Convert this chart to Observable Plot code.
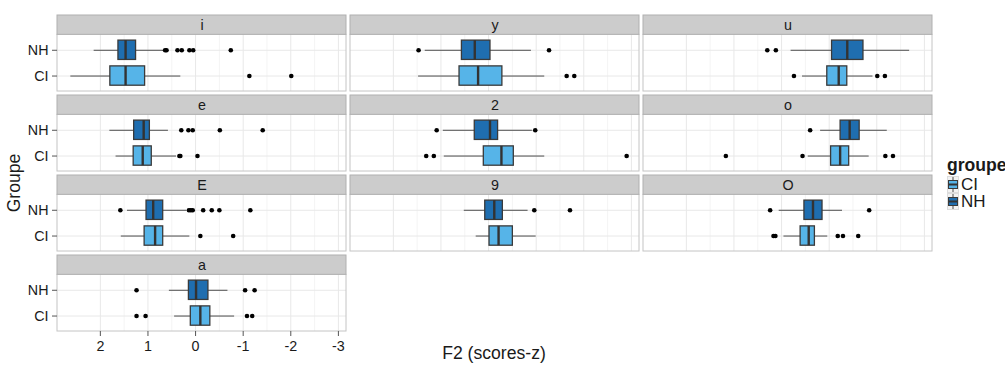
<!DOCTYPE html>
<html>
<head>
<meta charset="utf-8">
<script src="https://cdn.jsdelivr.net/npm/d3@7"></script>
<script src="https://cdn.jsdelivr.net/npm/@observablehq/plot@0.6"></script>
<style>
  html, body { margin: 0; padding: 0; background: #fff; overflow: hidden; }
  body { width: 1005px; height: 367px; position: relative; font-family: "Liberation Sans", Arial, Helvetica, sans-serif; color: #1a1a1a; }
  #chart { position: absolute; left: 0; top: 0; }
  .title { position: absolute; line-height: 1; white-space: nowrap; font-size: 17.6px; }
  #legend { position: absolute; left: 947px; top: 157px; }
  #legend .lt { font-weight: bold; font-size: 17.6px; line-height: 1; margin-bottom: 1px; }
  #legend .row { display: flex; align-items: center; height: 17px; }
  #legend .row span { font-size: 17px; margin-left: 2px; line-height: 1; }
</style>
</head>
<body>
<div id="chart"></div>
<div class="title" style="left:494px; top:354px; transform: translate(-50%,-50%);">F2 (scores-z)</div>
<div class="title" style="left:15px; top:183px; transform: translate(-50%,-50%) rotate(-90deg);">Groupe</div>
<div id="legend"></div>
<script>
// ---- data ----
const vowels = ["i", "y", "u", "e", "2", "o", "E", "9", "O", "a"];
const groups = ["CI", "NH"];
const groupColors = ["#56b4e8", "#1f6eb0"];
const xTicks = [2, 1, 0, -1, -2, -3];

// five-number summaries per vowel: [lower whisker, q1, median, q3, upper whisker]
const statsNH = [
  [0.66, 1.25, 1.47, 1.62, 2.13],   // i
  [-0.90, -0.04, 0.29, 0.56, 1.33], // y
  [-2.69, -1.72, -1.38, -1.06, -0.20], // u
  [0.57, 0.96, 1.09, 1.29, 1.80],   // e
  [-0.92, -0.20, -0.03, 0.29, 0.95], // 2
  [-2.22, -1.64, -1.43, -1.24, -0.82], // o
  [0.19, 0.68, 0.89, 1.03, 1.43],   // E
  [-0.83, -0.30, -0.12, 0.07, 0.51], // 9
  [-1.28, -0.86, -0.66, -0.48, 0.05], // O
  [-0.68, -0.27, -0.01, 0.14, 0.55]  // a
];
const statsCI = [
  [0.31, 1.06, 1.47, 1.79, 2.62],   // i
  [-1.18, -0.29, 0.22, 0.61, 1.47], // y
  [-1.92, -1.38, -1.20, -0.96, -0.44], // u
  [0.40, 0.92, 1.11, 1.30, 1.67],   // e
  [-1.18, -0.53, -0.27, 0.10, 0.93], // 2
  [-1.84, -1.42, -1.23, -1.04, -0.56], // o
  [0.12, 0.68, 0.85, 1.07, 1.56],   // E
  [-1.00, -0.51, -0.21, -0.02, 0.26], // 9
  [-0.97, -0.70, -0.57, -0.40, -0.05], // O
  [-0.82, -0.31, -0.10, 0.10, 0.44]  // a
];
const outliersNH = [
  [0.64, 0.61, 0.38, 0.29, 0.13, 0.05, -0.74],
  [1.47, -1.27],
  [0.30, 0.12],
  [0.30, 0.15, 0.06, -0.51, -1.41],
  [1.09, -0.98],
  [-0.60],
  [1.58, 0.14, 0.10, 0.06, -0.16, -0.34, -0.50, -1.15],
  [-0.96, -1.71],
  [0.24, -1.84],
  [1.24, -1.04, -1.24]
];
const outliersCI = [
  [-1.13, -2.01],
  [-1.64, -1.80],
  [-0.26, -2.01, -2.17],
  [0.34, 0.32, -0.04],
  [1.31, 1.15, -2.90],
  [1.17, -0.44, -2.18, -2.34],
  [-0.10, -0.79],
  [],
  [0.17, 0.13, -1.18, -1.29, -1.61],
  [1.24, 1.05, -1.08, -1.19]
];

// ---- build tables ----
const NCOL = 3;
const panels = vowels.map((v, i) => ({vowel: v, col: i % NCOL, row: Math.floor(i / NCOL)}));
const gyOf = g => (g === "NH" ? 2 : 1);
const boxes = [];
const outs = [];
panels.forEach((p, i) => {
  [["CI", statsCI[i], outliersCI[i]], ["NH", statsNH[i], outliersNH[i]]].forEach(([g, s, o]) => {
    boxes.push({...p, group: g, gy: gyOf(g), lo: s[0], q1: s[1], med: s[2], q3: s[3], hi: s[4]});
    o.forEach(v => outs.push({...p, group: g, gy: gyOf(g), value: v}));
  });
});
const minorTicks = xTicks.slice(0, -1).map((t, i) => (t + xTicks[i + 1]) / 2);
const gridMajor = panels.flatMap(p => xTicks.map(t => ({...p, t})));
const gridMinor = panels.flatMap(p => minorTicks.map(t => ({...p, t})));
const gridY = panels.flatMap(p => [1, 2].map(t => ({...p, t})));

// layout constants (in y units of each facet: panel 0.4..2.6, strip 2.6..3.35)
const xDomain = [2.90, -3.17];
const PB = 0.4, PT = 2.6, ST = 3.35, HW = 0.375;
const F = {fx: "col", fy: "row"};

const chart = Plot.plot({
  width: 1005,
  height: 367,
  marginLeft: 56,
  marginRight: 72,
  marginTop: 14,
  marginBottom: 36,
  style: {fontFamily: "'Liberation Sans', Arial, Helvetica, sans-serif", fontSize: "14.3px", color: "#1a1a1a", background: "transparent"},
  fx: {axis: null, domain: [0, 1, 2], paddingInner: 0.0136, paddingOuter: 0},
  fy: {axis: null, domain: [0, 1, 2, 3], paddingInner: 0.054, paddingOuter: 0},
  x: {domain: xDomain},
  y: {domain: [PB, ST], axis: null},
  color: {domain: groups, range: groupColors},
  marks: [
    Plot.rect(panels, {...F, x1: xDomain[0], x2: xDomain[1], y1: PB, y2: PT, fill: "#ffffff"}),
    Plot.ruleX(gridMinor, {...F, x: "t", y1: PB, y2: PT, stroke: "#f4f4f4", strokeWidth: 1}),
    Plot.ruleX(gridMajor, {...F, x: "t", y1: PB, y2: PT, stroke: "#e8e8e8", strokeWidth: 1}),
    Plot.ruleY(gridY, {...F, y: "t", x1: xDomain[0], x2: xDomain[1], stroke: "#e8e8e8", strokeWidth: 1}),
    Plot.rect(panels, {...F, x1: xDomain[0], x2: xDomain[1], y1: PB, y2: PT, fill: "none", stroke: "#c4c4c4", strokeWidth: 1}),
    Plot.rect(panels, {...F, x1: xDomain[0], x2: xDomain[1], y1: PT, y2: ST, fill: "#cccccc", stroke: "#b0b0b0", strokeWidth: 1}),
    Plot.text(panels, {...F, y: (PT + ST) / 2, text: "vowel", fontSize: 14.3, fill: "#1a1a1a"}),
    // whiskers
    Plot.ruleY(boxes, {...F, y: "gy", x1: "lo", x2: "hi", stroke: "#4d4d4d", strokeWidth: 1}),
    // boxes
    Plot.rect(boxes, {...F, x1: "q1", x2: "q3", y1: d => d.gy - HW, y2: d => d.gy + HW, fill: "group", stroke: "#3a3a3a", strokeWidth: 1.3}),
    // medians
    Plot.ruleX(boxes, {...F, x: "med", y1: d => d.gy - HW, y2: d => d.gy + HW, stroke: "#333333", strokeWidth: 2.4}),
    // outliers
    Plot.dot(outs, {...F, x: "value", y: "gy", r: 2.3, fill: "#000000", stroke: null}),
    // axes
    Plot.axisX({ticks: xTicks, tickFormat: d => String(d), anchor: "bottom", facetAnchor: "bottom-left", tickSize: 5, tickPadding: 4, fontSize: 14.3, stroke: "#555", label: null}),
    Plot.axisY({ticks: [1, 2], tickFormat: d => (d === 2 ? "NH" : "CI"), anchor: "left", facetAnchor: "left", tickSize: 5, tickPadding: 4, fontSize: 14.3, stroke: "#555", label: null})
  ]
});
document.getElementById("chart").appendChild(chart);

// ---- legend ----
const legend = document.getElementById("legend");
const lt = document.createElement("div");
lt.className = "lt";
lt.textContent = "groupe";
legend.appendChild(lt);
groups.forEach((g, i) => {
  const row = document.createElement("div");
  row.className = "row";
  const ns = "http://www.w3.org/2000/svg";
  const svg = document.createElementNS(ns, "svg");
  svg.setAttribute("width", 12);
  svg.setAttribute("height", 17);
  svg.innerHTML =
    `<rect x="0.5" y="0.5" width="11" height="16" fill="#f2f2f2" stroke="#dcdcdc"/>` +
    `<line x1="6" x2="6" y1="1" y2="16" stroke="#4d4d4d"/>` +
    `<rect x="1.5" y="4.5" width="9" height="8" fill="${groupColors[i]}" stroke="#3a3a3a"/>` +
    `<line x1="1.5" x2="10.5" y1="8.5" y2="8.5" stroke="#333" stroke-width="2"/>`;
  row.appendChild(svg);
  const s = document.createElement("span");
  s.textContent = g;
  row.appendChild(s);
  legend.appendChild(row);
});
</script>
</body>
</html>
